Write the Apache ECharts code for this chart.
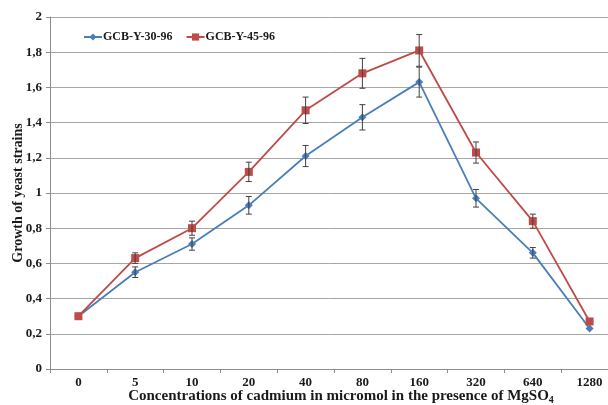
<!DOCTYPE html>
<html>
<head>
<meta charset="utf-8">
<script src="https://cdn.jsdelivr.net/npm/echarts@6/dist/echarts.min.js"></script>
<style>
  html, body { margin: 0; padding: 0; background: #ffffff; }
  #chart { width: 608px; height: 405px; }
</style>
</head>
<body>
<div id="chart"></div>
<script>
// Cadmium concentrations (micromol), one category per dose
const concentrations = ['0', '5', '10', '20', '40', '80', '160', '320', '640', '1280'];

// Mean growth of each strain
const strainA = [0.30, 0.55, 0.71, 0.93, 1.21, 1.43, 1.63, 0.97, 0.66, 0.23];
const strainB = [0.30, 0.63, 0.80, 1.12, 1.47, 1.68, 1.81, 1.23, 0.84, 0.27];

// Standard error (half-length of each error bar)
const errorA = [0, 0.03, 0.035, 0.05, 0.06, 0.072, 0.085, 0.05, 0.03, 0.01];
const errorB = [0, 0.03, 0.04, 0.055, 0.075, 0.085, 0.09, 0.06, 0.04, 0.01];

const seriesNames = ['GCB-Y-30-96', 'GCB-Y-45-96'];
const yTicks = { min: 0, max: 2, step: 0.2 };

const FONT = '"Liberation Serif", "DejaVu Serif", serif';
const TEXT = '#1a1a1a';
const colorA = '#4a7ebb';
const colorB = '#be4b48';

function errorData(means, errs) {
  return means.map((m, i) => [i, m - errs[i], m + errs[i]]);
}

function renderErrorBar(params, api) {
  const x = api.value(0);
  const lo = api.coord([x, api.value(1)]);
  const hi = api.coord([x, api.value(2)]);
  const cap = 3;
  const style = { stroke: '#404040', lineWidth: 1 };
  return {
    type: 'group',
    children: [
      { type: 'line', shape: { x1: lo[0], y1: lo[1], x2: hi[0], y2: hi[1] }, style },
      { type: 'line', shape: { x1: lo[0] - cap, y1: lo[1], x2: lo[0] + cap, y2: lo[1] }, style },
      { type: 'line', shape: { x1: hi[0] - cap, y1: hi[1], x2: hi[0] + cap, y2: hi[1] }, style }
    ]
  };
}

const chart = echarts.init(document.getElementById('chart'), null, { renderer: 'canvas' });

chart.setOption({
  animation: false,
  backgroundColor: '#ffffff',
  grid: { left: 50, right: -10, top: 17, bottom: 36, containLabel: false, outerBoundsMode: 'none' },
  legend: {
    left: 83,
    top: 31,
    padding: 0,
    itemWidth: 18,
    itemHeight: 9,
    itemGap: 13,
    data: seriesNames,
    textStyle: { fontFamily: FONT, fontWeight: 'bold', fontSize: 12, color: TEXT, padding: [0, 0, 0, -4] }
  },
  xAxis: {
    type: 'category',
    data: concentrations,
    boundaryGap: true,
    name: 'Concentrations of cadmium in micromol in the presence of {s|MgSO}{sub|4}',
    nameLocation: 'middle',
    nameGap: 19,
    nameMoveOverlap: false,
    nameTextStyle: {
      fontFamily: FONT, fontWeight: 'bold', fontSize: 15, color: TEXT,
      padding: [0, 0, 0, 14],
      rich: {
        s: { fontFamily: FONT, fontWeight: 'bold', fontSize: 15, color: TEXT },
        sub: { fontFamily: FONT, fontWeight: 'bold', fontSize: 10, color: TEXT, verticalAlign: 'bottom', padding: [7, 0, 0, 0] }
      }
    },
    axisLine: { lineStyle: { color: '#8c8c8c', width: 1 } },
    axisTick: { show: true, alignWithLabel: false, length: 4, lineStyle: { color: '#8c8c8c' } },
    axisLabel: { fontFamily: FONT, fontWeight: 'bold', fontSize: 13, color: TEXT, margin: 7 },
    splitLine: { show: false }
  },
  yAxis: {
    type: 'value',
    min: yTicks.min,
    max: yTicks.max,
    interval: yTicks.step,
    name: 'Growth of yeast strains',
    nameLocation: 'middle',
    nameGap: 25,
    nameMoveOverlap: false,
    nameTextStyle: { fontFamily: FONT, fontWeight: 'bold', fontSize: 14, color: TEXT },
    axisLine: { show: true, lineStyle: { color: '#8c8c8c', width: 1 } },
    axisTick: { show: true, length: 4, lineStyle: { color: '#8c8c8c' } },
    axisLabel: {
      fontFamily: FONT, fontWeight: 'bold', fontSize: 13, color: TEXT, margin: 8,
      formatter: v => String(Math.round(v * 10) / 10).replace('.', ',')
    },
    splitLine: { show: true, lineStyle: { color: '#a6a6a6', width: 1 } }
  },
  series: [
    {
      name: seriesNames[0],
      type: 'line',
      data: strainA,
      color: colorA,
      symbol: 'diamond',
      symbolSize: 8,
      lineStyle: { width: 1.8, color: colorA },
      itemStyle: { color: colorA },
      z: 3
    },
    {
      name: seriesNames[1],
      type: 'line',
      data: strainB,
      color: colorB,
      symbol: 'rect',
      symbolSize: 8,
      lineStyle: { width: 1.8, color: colorB },
      itemStyle: { color: colorB },
      z: 3
    },
    {
      type: 'custom',
      renderItem: renderErrorBar,
      data: errorData(strainA, errorA).slice(1, 9),
      encode: { x: 0, y: [1, 2] },
      z: 5,
      silent: true
    },
    {
      type: 'custom',
      renderItem: renderErrorBar,
      data: errorData(strainB, errorB).slice(1, 9),
      encode: { x: 0, y: [1, 2] },
      z: 5,
      silent: true
    }
  ]
});
</script>
</body>
</html>
